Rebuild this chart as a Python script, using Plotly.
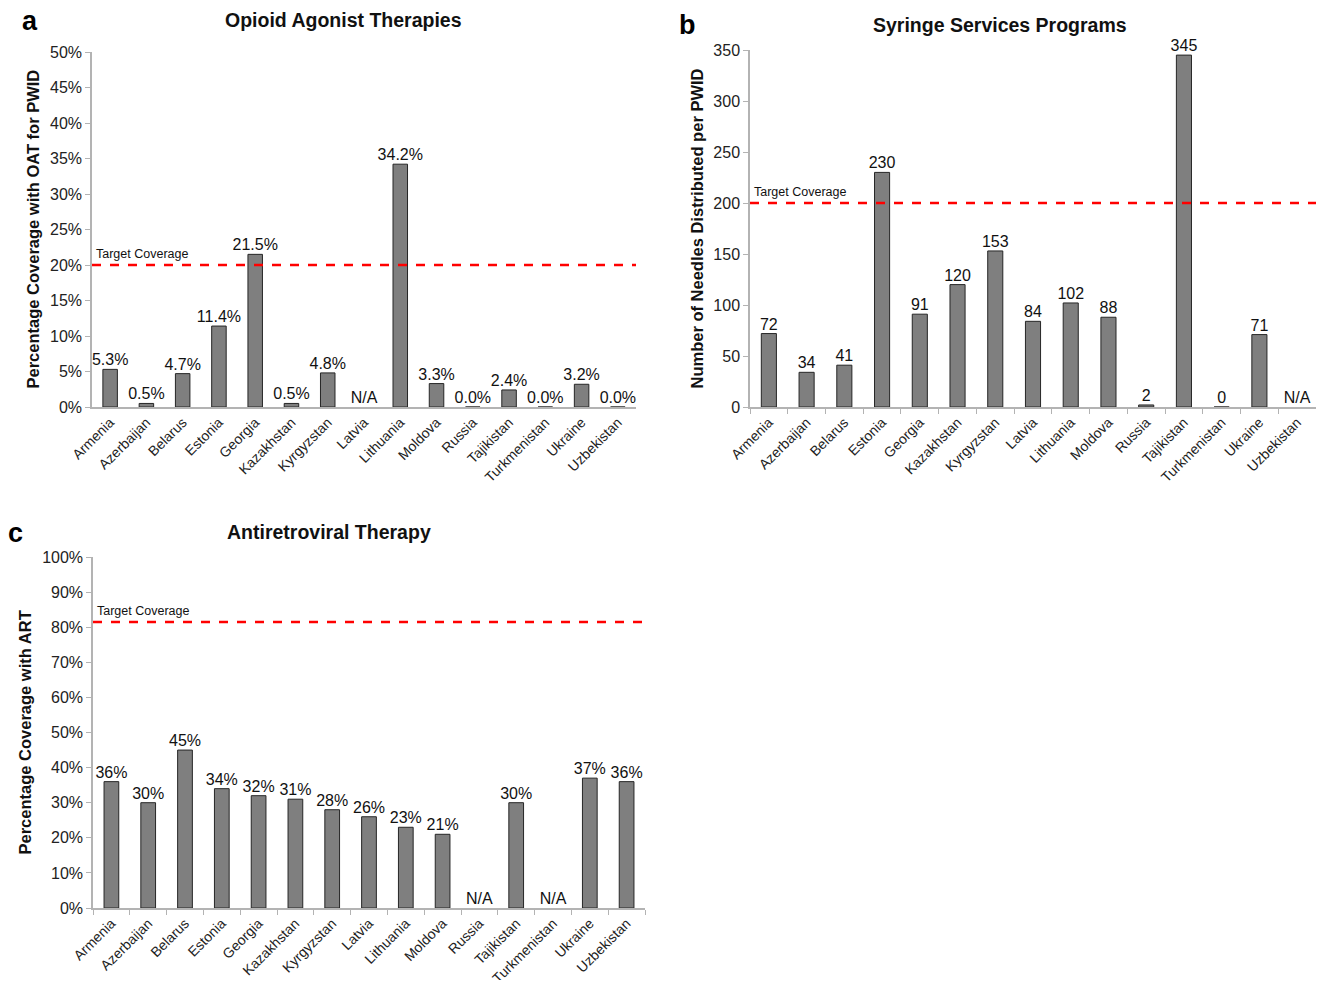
import plotly.graph_objects as go

countries = ["Armenia", "Azerbaijan", "Belarus", "Estonia", "Georgia", "Kazakhstan",
             "Kyrgyzstan", "Latvia", "Lithuania", "Moldova", "Russia", "Tajikistan",
             "Turkmenistan", "Ukraine", "Uzbekistan"]

oat_values = [5.3, 0.5, 4.7, 11.4, 21.5, 0.5, 4.8, None, 34.2, 3.3, 0.0, 2.4, 0.0, 3.2, 0.0]
oat_labels = ["5.3%", "0.5%", "4.7%", "11.4%", "21.5%", "0.5%", "4.8%", "N/A", "34.2%",
              "3.3%", "0.0%", "2.4%", "0.0%", "3.2%", "0.0%"]
oat_target = 20

ssp_values = [72, 34, 41, 230, 91, 120, 153, 84, 102, 88, 2, 345, 0, 71, None]
ssp_labels = ["72", "34", "41", "230", "91", "120", "153", "84", "102", "88", "2", "345",
              "0", "71", "N/A"]
ssp_target = 200

art_values = [36, 30, 45, 34, 32, 31, 28, 26, 23, 21, None, 30, None, 37, 36]
art_labels = ["36%", "30%", "45%", "34%", "32%", "31%", "28%", "26%", "23%", "21%", "N/A",
              "30%", "N/A", "37%", "36%"]
art_target = 81.5

PAGE_W, PAGE_H = 1329, 988
OFF = 8  # default body margin of the page
W, H = PAGE_W - 2 * OFF, PAGE_H - 2 * OFF
FONT = "Liberation Sans Narrow, Arial Narrow, Liberation Sans, Arial, sans-serif"
BOLD = "Liberation Sans, Arial, sans-serif"
BAR = "#7f7f7f"
EDGE = "#262626"
AXIS = "#b3b3b3"


def px_x(p):
    return (p - OFF) / W


def px_y(p):
    return 1 - (p - OFF) / H


panels = [
    dict(vals=oat_values, labels=oat_labels, target=oat_target, xd=(92, 636), yd=(407, 52),
         rng=[0, 50], dtick=5, suffix="%", title="Opioid Agonist Therapies", title_x=343,
         title_y=20, ytitle="Percentage Coverage with OAT for PWID", ytitle_x=33,
         letter="a", letter_xy=(30, 21), ticks_x=False),
    dict(vals=ssp_values, labels=ssp_labels, target=ssp_target, xd=(750, 1316), yd=(407, 50),
         rng=[0, 350], dtick=50, suffix="", title="Syringe Services Programs", title_x=1000,
         title_y=25, ytitle="Number of Needles Distributed per PWID", ytitle_x=696,
         letter="b", letter_xy=(687, 25), ticks_x=True),
    dict(vals=art_values, labels=art_labels, target=art_target, xd=(93, 645), yd=(908, 557),
         rng=[0, 100], dtick=10, suffix="%", title="Antiretroviral Therapy", title_x=329,
         title_y=532, ytitle="Percentage Coverage with ART", ytitle_x=24,
         letter="c", letter_xy=(15, 533), ticks_x=True),
]

fig = go.Figure()
annotations = []
shapes = []

for i, p in enumerate(panels, start=1):
    xa = "x" if i == 1 else f"x{i}"
    ya = "y" if i == 1 else f"y{i}"
    # bars
    fig.add_trace(go.Bar(
        x=countries, y=p["vals"], xaxis=xa, yaxis=ya, width=0.4,
        marker=dict(color=BAR, line=dict(color=EDGE, width=1)),
        showlegend=False, hoverinfo="x+y",
    ))
    # value labels
    ytext = [v if v is not None else 0 for v in p["vals"]]
    fig.add_trace(go.Scatter(
        x=countries, y=ytext, xaxis=xa, yaxis=ya, mode="text", text=p["labels"],
        textposition="top center", textfont=dict(family=FONT, size=16, color="#111111"),
        showlegend=False, hoverinfo="skip", cliponaxis=False,
    ))
    # target line
    shapes.append(dict(type="line", xref=f"{xa} domain", yref=ya, x0=0, x1=1,
                       y0=p["target"], y1=p["target"],
                       line=dict(color="#ff0000", width=2.5, dash="dash")))
    annotations.append(dict(text="Target Coverage", xref=f"{xa} domain", yref=ya, x=0.003,
                            y=p["target"], xanchor="left", yanchor="bottom", showarrow=False,
                            yshift=2, font=dict(family=FONT, size=12.5, color="#111111")))
    # titles
    annotations.append(dict(text=f"<b>{p['title']}</b>", xref="paper", yref="paper",
                            x=px_x(p["title_x"]), y=px_y(p["title_y"]), xanchor="center",
                            yanchor="middle", showarrow=False,
                            font=dict(family=BOLD, size=19.5, color="#111111")))
    annotations.append(dict(text=f"<b>{p['letter']}</b>", xref="paper", yref="paper",
                            x=px_x(p["letter_xy"][0]), y=px_y(p["letter_xy"][1]),
                            xanchor="center", yanchor="middle", showarrow=False,
                            font=dict(family=BOLD, size=27, color="#000000")))
    annotations.append(dict(text=f"<b>{p['ytitle']}</b>", xref="paper", yref="paper",
                            x=px_x(p["ytitle_x"]), y=px_y((p["yd"][0] + p["yd"][1]) / 2),
                            xanchor="center", yanchor="middle", showarrow=False, textangle=-90,
                            font=dict(family=BOLD, size=16.5, color="#111111")))

    xaxis = dict(domain=[px_x(p["xd"][0]), px_x(p["xd"][1])], anchor=ya,
                 type="category", categoryorder="array", categoryarray=countries,
                 range=[-0.5, 14.5], automargin=False,
                 showline=True, linecolor=AXIS, linewidth=1.5, showgrid=False,
                 tickangle=-45, tickfont=dict(family=FONT, size=14, color="#222222"),
                 ticks="outside" if p["ticks_x"] else "", tickson="boundaries",
                 ticklen=5, tickcolor=AXIS, zeroline=False)
    yaxis = dict(domain=[px_y(p["yd"][0]), px_y(p["yd"][1])], anchor=xa,
                 range=p["rng"], dtick=p["dtick"], ticksuffix=p["suffix"], automargin=False,
                 showline=True, linecolor=AXIS, linewidth=1.5, showgrid=False,
                 ticks="outside", ticklen=5, tickcolor=AXIS, zeroline=False,
                 tickfont=dict(family=FONT, size=16, color="#222222"))
    key = "" if i == 1 else str(i)
    fig.update_layout(**{f"xaxis{key}": xaxis, f"yaxis{key}": yaxis})

fig.update_layout(
    width=W, height=H, margin=dict(l=0, r=0, t=0, b=0, autoexpand=False),
    paper_bgcolor="white", plot_bgcolor="white",
    shapes=shapes, annotations=annotations, bargap=0.6,
    font=dict(family=FONT, color="#111111"),
)

fig.write_html("out.html")
